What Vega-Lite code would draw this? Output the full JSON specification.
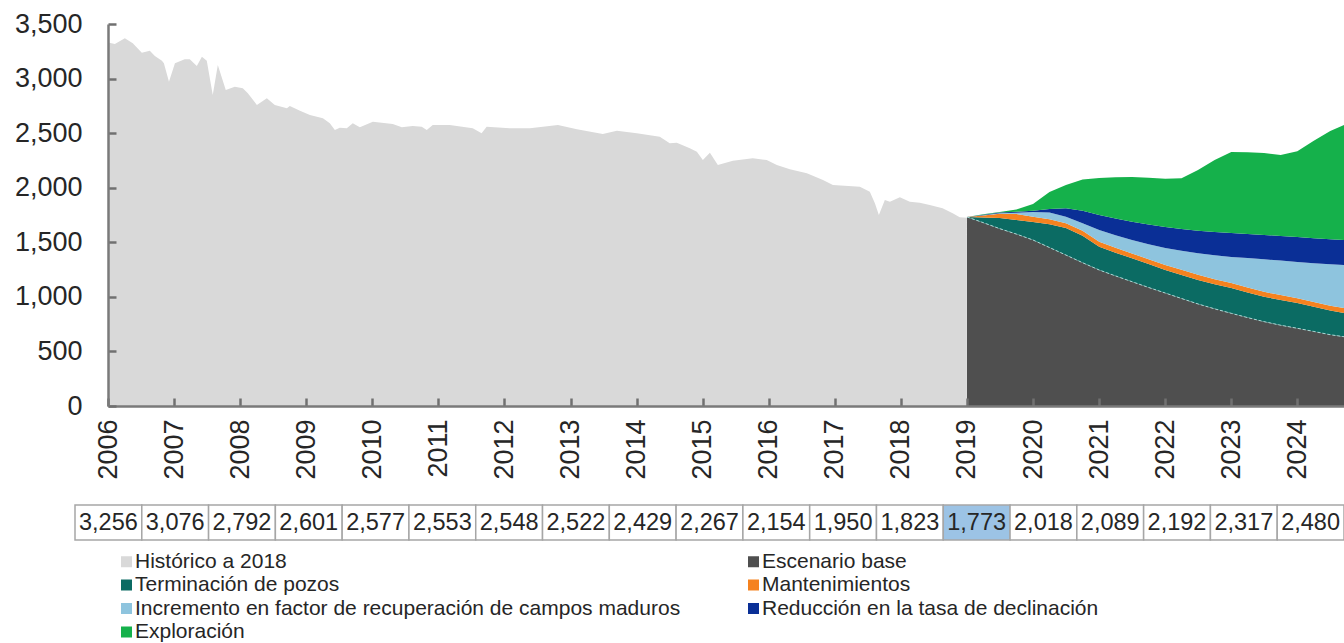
{
  "$schema": "https://vega.github.io/schema/vega-lite/v6.json",
  "background": "white",
  "padding": {"left": 14, "top": 10, "right": 0, "bottom": 0},
  "bounds": "flush",
  "spacing": 99,
  "config": {"font": "Liberation Sans", "view": {"stroke": null}},
  "datasets": {
    "hist": [
      {"date": "2006-01-01", "value": 3330}, {"date": "2006-02-08", "value": 3317}, {"date": "2006-04-04", "value": 3369},
      {"date": "2006-05-18", "value": 3323}, {"date": "2006-07-07", "value": 3237}, {"date": "2006-08-20", "value": 3256},
      {"date": "2006-09-17", "value": 3207}, {"date": "2006-10-26", "value": 3164}, {"date": "2006-11-06", "value": 3140},
      {"date": "2006-12-04", "value": 2971}, {"date": "2007-01-06", "value": 3140}, {"date": "2007-03-01", "value": 3177},
      {"date": "2007-03-29", "value": 3177}, {"date": "2007-05-07", "value": 3115}, {"date": "2007-06-04", "value": 3200},
      {"date": "2007-07-01", "value": 3164}, {"date": "2007-08-03", "value": 2849}, {"date": "2007-08-31", "value": 3124},
      {"date": "2007-10-14", "value": 2895}, {"date": "2007-12-03", "value": 2926}, {"date": "2008-01-16", "value": 2911},
      {"date": "2008-02-13", "value": 2865}, {"date": "2008-04-03", "value": 2758}, {"date": "2008-05-28", "value": 2819},
      {"date": "2008-07-11", "value": 2758}, {"date": "2008-09-16", "value": 2728}, {"date": "2008-10-02", "value": 2749},
      {"date": "2008-11-27", "value": 2706}, {"date": "2009-01-21", "value": 2666}, {"date": "2009-04-03", "value": 2636},
      {"date": "2009-05-11", "value": 2590}, {"date": "2009-06-08", "value": 2529}, {"date": "2009-07-05", "value": 2550},
      {"date": "2009-08-13", "value": 2544}, {"date": "2009-09-15", "value": 2590}, {"date": "2009-10-24", "value": 2553},
      {"date": "2010-01-04", "value": 2605}, {"date": "2010-04-24", "value": 2584}, {"date": "2010-06-13", "value": 2553},
      {"date": "2010-08-12", "value": 2565}, {"date": "2010-10-01", "value": 2559}, {"date": "2010-10-29", "value": 2529},
      {"date": "2010-12-01", "value": 2575}, {"date": "2011-03-05", "value": 2575}, {"date": "2011-07-10", "value": 2544},
      {"date": "2011-08-28", "value": 2498}, {"date": "2011-09-25", "value": 2559}, {"date": "2012-01-31", "value": 2544},
      {"date": "2012-05-21", "value": 2544}, {"date": "2012-10-23", "value": 2575}, {"date": "2013-02-05", "value": 2535},
      {"date": "2013-06-28", "value": 2492}, {"date": "2013-09-14", "value": 2523}, {"date": "2014-01-02", "value": 2498},
      {"date": "2014-05-09", "value": 2467}, {"date": "2014-07-03", "value": 2407}, {"date": "2014-08-11", "value": 2413},
      {"date": "2014-10-22", "value": 2361}, {"date": "2014-11-30", "value": 2330}, {"date": "2015-01-02", "value": 2255},
      {"date": "2015-02-10", "value": 2321}, {"date": "2015-03-26", "value": 2208}, {"date": "2015-06-17", "value": 2248},
      {"date": "2015-10-05", "value": 2269}, {"date": "2015-12-21", "value": 2254}, {"date": "2016-02-15", "value": 2208},
      {"date": "2016-04-27", "value": 2169}, {"date": "2016-07-30", "value": 2132}, {"date": "2016-10-27", "value": 2071},
      {"date": "2016-12-21", "value": 2025}, {"date": "2017-05-19", "value": 2009}, {"date": "2017-07-13", "value": 1963},
      {"date": "2017-08-10", "value": 1857}, {"date": "2017-09-01", "value": 1750}, {"date": "2017-10-04", "value": 1887},
      {"date": "2017-11-01", "value": 1872}, {"date": "2017-12-26", "value": 1912}, {"date": "2018-02-19", "value": 1872},
      {"date": "2018-04-15", "value": 1863}, {"date": "2018-06-09", "value": 1842}, {"date": "2018-08-19", "value": 1811},
      {"date": "2018-10-14", "value": 1765}, {"date": "2018-11-22", "value": 1729}, {"date": "2018-12-31", "value": 1725}
    ],
    "proj": [
      {"date": "2019-01-01", "Escenario base": 1732, "Terminación de pozos": 0, "Mantenimientos": 0, "Incremento en factor de recuperación de campos maduros": 0, "Reducción en la tasa de declinación": 0, "Exploración": 0},
      {"date": "2019-04-01", "Escenario base": 1680, "Terminación de pozos": 48, "Mantenimientos": 17, "Incremento en factor de recuperación de campos maduros": 3, "Reducción en la tasa de declinación": 4, "Exploración": 4},
      {"date": "2019-07-01", "Escenario base": 1625, "Terminación de pozos": 97, "Mantenimientos": 40, "Incremento en factor de recuperación de campos maduros": 4, "Reducción en la tasa de declinación": 6, "Exploración": 6},
      {"date": "2019-10-01", "Escenario base": 1575, "Terminación de pozos": 130, "Mantenimientos": 55, "Incremento en factor de recuperación de campos maduros": 10, "Reducción en la tasa de declinación": 10, "Exploración": 20},
      {"date": "2020-01-01", "Escenario base": 1521, "Terminación de pozos": 165, "Mantenimientos": 49, "Incremento en factor de recuperación de campos maduros": 43, "Reducción en la tasa de declinación": 12, "Exploración": 60},
      {"date": "2020-04-01", "Escenario base": 1452, "Terminación de pozos": 213, "Mantenimientos": 47, "Incremento en factor de recuperación de campos maduros": 60, "Reducción en la tasa de declinación": 33, "Exploración": 155},
      {"date": "2020-07-01", "Escenario base": 1383, "Terminación de pozos": 247, "Mantenimientos": 45, "Incremento en factor de recuperación de campos maduros": 60, "Reducción en la tasa de declinación": 77, "Exploración": 213},
      {"date": "2020-10-01", "Escenario base": 1313, "Terminación de pozos": 247, "Mantenimientos": 45, "Incremento en factor de recuperación de campos maduros": 70, "Reducción en la tasa de declinación": 115, "Exploración": 285},
      {"date": "2021-01-01", "Escenario base": 1246, "Terminación de pozos": 214, "Mantenimientos": 45, "Incremento en factor de recuperación de campos maduros": 108, "Reducción en la tasa de declinación": 137, "Exploración": 340},
      {"date": "2021-04-01", "Escenario base": 1192, "Terminación de pozos": 213, "Mantenimientos": 45, "Incremento en factor de recuperación de campos maduros": 115, "Reducción en la tasa de declinación": 153, "Exploración": 377},
      {"date": "2021-07-01", "Escenario base": 1139, "Terminación de pozos": 214, "Mantenimientos": 45, "Incremento en factor de recuperación de campos maduros": 123, "Reducción en la tasa de declinación": 168, "Exploración": 409},
      {"date": "2021-10-01", "Escenario base": 1086, "Terminación de pozos": 214, "Mantenimientos": 45, "Incremento en factor de recuperación de campos maduros": 137, "Reducción en la tasa de declinación": 181, "Exploración": 429},
      {"date": "2022-01-01", "Escenario base": 1035, "Terminación de pozos": 211, "Mantenimientos": 46, "Incremento en factor de recuperación de campos maduros": 156, "Reducción en la tasa de declinación": 192, "Exploración": 443},
      {"date": "2022-04-01", "Escenario base": 985, "Terminación de pozos": 215, "Mantenimientos": 48, "Incremento en factor de recuperación de campos maduros": 174, "Reducción en la tasa de declinación": 200, "Exploración": 464},
      {"date": "2022-07-01", "Escenario base": 935, "Terminación de pozos": 219, "Mantenimientos": 48, "Incremento en factor de recuperación de campos maduros": 197, "Reducción en la tasa de declinación": 207, "Exploración": 556},
      {"date": "2022-10-01", "Escenario base": 890, "Terminación de pozos": 225, "Mantenimientos": 47, "Incremento en factor de recuperación de campos maduros": 220, "Reducción en la tasa de declinación": 213, "Exploración": 660},
      {"date": "2023-01-01", "Escenario base": 849, "Terminación de pozos": 232, "Mantenimientos": 46, "Incremento en factor de recuperación de campos maduros": 238, "Reducción en la tasa de declinación": 220, "Exploración": 742},
      {"date": "2023-04-01", "Escenario base": 810, "Terminación de pozos": 230, "Mantenimientos": 46, "Incremento en factor de recuperación de campos maduros": 269, "Reducción en la tasa de declinación": 221, "Exploración": 749},
      {"date": "2023-07-01", "Escenario base": 773, "Terminación de pozos": 228, "Mantenimientos": 45, "Incremento en factor de recuperación de campos maduros": 298, "Reducción en la tasa de declinación": 223, "Exploración": 751},
      {"date": "2023-10-01", "Escenario base": 740, "Terminación de pozos": 232, "Mantenimientos": 44, "Incremento en factor de recuperación de campos maduros": 316, "Reducción en la tasa de declinación": 225, "Exploración": 743},
      {"date": "2024-01-01", "Escenario base": 712, "Terminación de pozos": 232, "Mantenimientos": 44, "Incremento en factor de recuperación de campos maduros": 331, "Reducción en la tasa de declinación": 229, "Exploración": 787},
      {"date": "2024-04-01", "Escenario base": 683, "Terminación de pozos": 227, "Mantenimientos": 43, "Incremento en factor de recuperación de campos maduros": 355, "Reducción en la tasa de declinación": 230, "Exploración": 892},
      {"date": "2024-07-01", "Escenario base": 653, "Terminación de pozos": 222, "Mantenimientos": 43, "Incremento en factor de recuperación de campos maduros": 380, "Reducción en la tasa de declinación": 230, "Exploración": 992},
      {"date": "2024-09-15", "Escenario base": 635, "Terminación de pozos": 217, "Mantenimientos": 46, "Incremento en factor de recuperación de campos maduros": 394, "Reducción en la tasa de declinación": 229, "Exploración": 1054}
    ],
    "table": [
      {"year": 2006, "value": 3256}, {"year": 2007, "value": 3076}, {"year": 2008, "value": 2792}, {"year": 2009, "value": 2601},
      {"year": 2010, "value": 2577}, {"year": 2011, "value": 2553}, {"year": 2012, "value": 2548}, {"year": 2013, "value": 2522},
      {"year": 2014, "value": 2429}, {"year": 2015, "value": 2267}, {"year": 2016, "value": 2154}, {"year": 2017, "value": 1950},
      {"year": 2018, "value": 1823}, {"year": 2019, "value": 1773}, {"year": 2020, "value": 2018}, {"year": 2021, "value": 2089},
      {"year": 2022, "value": 2192}, {"year": 2023, "value": 2317}, {"year": 2024, "value": 2480}
    ]
  },
  "vconcat": [
    {
      "width": 1236,
      "height": 382,
      "encoding": {
        "x": {
          "field": "date", "type": "temporal",
          "scale": {"type": "utc", "domain": [{"year": 2006, "month": 1, "date": 1, "utc": true}, {"year": 2024, "month": 9, "date": 15, "utc": true}]},
          "axis": {
            "title": null, "format": "%Y", "grid": false, "zindex": 1,
            "values": [{"year": 2006, "utc": true}, {"year": 2007, "utc": true}, {"year": 2008, "utc": true}, {"year": 2009, "utc": true}, {"year": 2010, "utc": true}, {"year": 2011, "utc": true}, {"year": 2012, "utc": true}, {"year": 2013, "utc": true}, {"year": 2014, "utc": true}, {"year": 2015, "utc": true}, {"year": 2016, "utc": true}, {"year": 2017, "utc": true}, {"year": 2018, "utc": true}, {"year": 2019, "utc": true}, {"year": 2020, "utc": true}, {"year": 2021, "utc": true}, {"year": 2022, "utc": true}, {"year": 2023, "utc": true}, {"year": 2024, "utc": true}],
            "labelAngle": -90, "labelFontSize": 27, "labelColor": "#262626", "labelFlush": false, "labelOverlap": false,
            "labelPadding": 21, "tickSize": -8, "tickWidth": 2.5, "tickColor": "#707070",
            "domainColor": "#7a7a7a", "domainWidth": 2.5
          }
        },
        "y": {
          "field": "value", "type": "quantitative",
          "scale": {"domain": [0, 3500]},
          "axis": {"title": null, "values": [0, 500, 1000, 1500, 2000, 2500, 3000, 3500], "format": ",.0f", "grid": false, "zindex": 1,
            "labelFontSize": 27, "labelColor": "#262626", "labelPadding": 34, "tickSize": -8, "tickWidth": 2.5,
            "tickColor": "#707070", "domainColor": "#7a7a7a", "domainWidth": 2.5, "labelFlush": false}
        }
      },
      "layer": [
        {
          "data": {"name": "hist"},
          "mark": {"type": "area", "interpolate": "linear"},
          "encoding": {
            "color": {
              "datum": "Histórico a 2018", "type": "nominal",
              "scale": {
                "domain": ["Histórico a 2018", "Terminación de pozos", "Incremento en factor de recuperación de campos maduros", "Exploración", "Escenario base", "Mantenimientos", "Reducción en la tasa de declinación"],
                "range": ["#d9d9d9", "#0b6b63", "#8ec4de", "#15b14b", "#4f4f4f", "#f5821f", "#0a2f96"]
              },
              "legend": {
                "title": null, "orient": "none", "legendX": 8, "legendY": 527, "columns": 2,
                "labelFontSize": 21, "labelColor": "#262626", "labelLimit": 800, "symbolType": "square", "symbolSize": 121,
                "symbolStrokeWidth": 0, "symbolOpacity": 1, "labelOffset": -2, "rowPadding": 1.5, "columnPadding": 62, "padding": 0
              }
            }
          }
        },
        {
          "data": {"name": "proj"},
          "transform": [
            {"fold": ["Escenario base", "Terminación de pozos", "Mantenimientos", "Incremento en factor de recuperación de campos maduros", "Reducción en la tasa de declinación", "Exploración"], "as": ["series", "value"]},
            {"calculate": "indexof(['Escenario base', 'Terminación de pozos', 'Mantenimientos', 'Incremento en factor de recuperación de campos maduros', 'Reducción en la tasa de declinación', 'Exploración'], datum.series)", "as": "k"}
          ],
          "mark": {"type": "area", "interpolate": "linear"},
          "encoding": {
            "y": {"field": "value", "type": "quantitative", "stack": "zero"},
            "color": {
              "field": "series", "type": "nominal",
              "legend": {
                "title": null, "orient": "none", "legendX": 8, "legendY": 527, "columns": 2,
                "labelFontSize": 21, "labelColor": "#262626", "labelLimit": 800, "symbolType": "square", "symbolSize": 121,
                "symbolStrokeWidth": 0, "symbolOpacity": 1, "labelOffset": -2, "rowPadding": 1.5, "columnPadding": 62, "padding": 0
              }
            },
            "order": {"field": "k", "type": "quantitative", "sort": "ascending"}
          }
        },
        {
          "data": {"name": "proj"},
          "mark": {"type": "line", "color": "#a9d6d3", "strokeWidth": 1, "strokeDash": [3, 2]},
          "encoding": {
            "y": {"field": "Escenario base", "type": "quantitative"}
          }
        }
      ]
    },
    {
      "width": 1269,
      "height": 35,
      "data": {"name": "table"},
      "encoding": {
        "x": {"field": "year", "type": "ordinal", "axis": null, "scale": {"paddingInner": 0, "paddingOuter": 0}}
      },
      "layer": [
        {
          "mark": {"type": "rect", "stroke": "#a6a6a6", "strokeWidth": 1.5, "xOffset": -33, "x2Offset": -33},
          "encoding": {
            "y": {"value": 0},
            "y2": {"value": 35},
            "fill": {"condition": {"test": "datum.year == 2019", "value": "#9cc3e5"}, "value": "white"}
          }
        },
        {
          "mark": {"type": "text", "fontSize": 23.5, "color": "#262626", "baseline": "middle", "align": "center", "xOffset": -33},
          "encoding": {
            "y": {"value": 18},
            "text": {"field": "value", "type": "quantitative", "format": ","}
          }
        }
      ]
    }
  ]
}
